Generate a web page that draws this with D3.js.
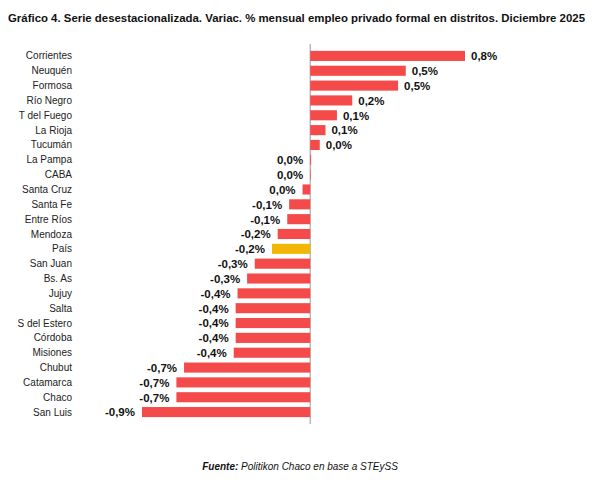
<!DOCTYPE html>
<html><head><meta charset="utf-8">
<script src="https://cdn.jsdelivr.net/npm/d3@7"></script>
<style>body{margin:0;background:#fff;font-family:"Liberation Sans",Arial,sans-serif}</style>
</head><body><div class="chart"></div>
<script>
const districts = ["Corrientes","Neuquén","Formosa","Río Negro","T del Fuego","La Rioja","Tucumán","La Pampa","CABA","Santa Cruz","Santa Fe","Entre Ríos","Mendoza","País","San Juan","Bs. As","Jujuy","Salta","S del Estero","Córdoba","Misiones","Chubut","Catamarca","Chaco","San Luis"];
const values = [0.81,0.50,0.46,0.22,0.14,0.08,0.05,0.005,0.003,-0.04,-0.11,-0.12,-0.17,-0.20,-0.29,-0.33,-0.38,-0.39,-0.39,-0.39,-0.40,-0.66,-0.70,-0.70,-0.88];
const labels = ["0,8%","0,5%","0,5%","0,2%","0,1%","0,1%","0,0%","0,0%","0,0%","0,0%","-0,1%","-0,1%","-0,2%","-0,2%","-0,3%","-0,3%","-0,4%","-0,4%","-0,4%","-0,4%","-0,4%","-0,7%","-0,7%","-0,7%","-0,9%"];
const data = districts.map((d,i)=>({name:d,value:values[i],label:labels[i]}));

const width = 595, height = 489;
const svg = d3.select(".chart").append("svg").attr("width",width).attr("height",height);

const x = d3.scaleLinear().domain([-0.88,0.81]).range([142,465]);
const y = d3.scaleBand().domain(districts).range([48.5,419.5]).paddingInner(0.32).paddingOuter(0.16);

svg.append("text").attr("x",8).attr("y",22)
  .attr("font-size",11.5).attr("font-weight","bold").attr("fill","#111")
  .attr("textLength",577).attr("lengthAdjust","spacingAndGlyphs")
  .text("Gráfico 4. Serie desestacionalizada. Variac. % mensual empleo privado formal en distritos. Diciembre 2025");

svg.append("line").attr("x1",x(0)).attr("x2",x(0)).attr("y1",44).attr("y2",424)
  .attr("stroke","#999").attr("stroke-width",1);

svg.append("g").selectAll("rect").data(data).enter().append("rect")
  .attr("x",d=>x(Math.min(0,d.value)))
  .attr("y",d=>y(d.name))
  .attr("width",d=>Math.abs(x(d.value)-x(0)))
  .attr("height",y.bandwidth())
  .attr("fill",d=>d.name==="País"?"#f2b705":"#f44a4a");

svg.append("g").selectAll("text").data(data).enter().append("text")
  .attr("x",72).attr("y",d=>y(d.name)+y.bandwidth()/2).attr("dy","0.35em")
  .attr("text-anchor","end").attr("font-size",10).attr("fill","#222")
  .text(d=>d.name);

svg.append("g").selectAll("text").data(data).enter().append("text")
  .attr("x",d=>d.value>=0.01?x(d.value)+6:Math.min(x(d.value),x(0))-7)
  .attr("y",d=>y(d.name)+y.bandwidth()/2).attr("dy","0.38em")
  .attr("text-anchor",d=>d.value>=0.01?"start":"end")
  .attr("font-size",11.5).attr("font-weight","bold").attr("fill","#111")
  .text(d=>d.label);

const f = svg.append("text").attr("x",300).attr("y",470).attr("text-anchor","middle")
  .attr("font-size",10).attr("font-style","italic").attr("fill","#111");
f.append("tspan").attr("font-weight","bold").text("Fuente:");
f.append("tspan").text(" Politikon Chaco en base a STEySS");
</script></body></html>
